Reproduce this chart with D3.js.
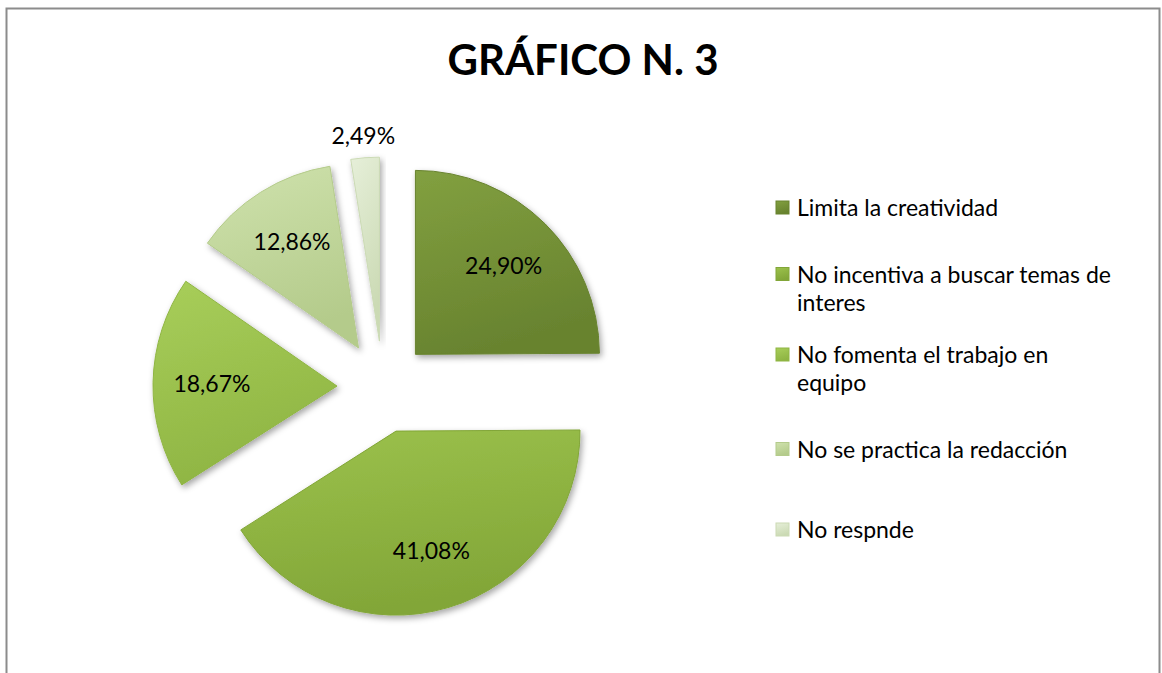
<!DOCTYPE html>
<html>
<head>
<meta charset="utf-8">
<script src="https://cdn.jsdelivr.net/npm/d3@7/dist/d3.min.js"></script>
<style>
  body { margin: 0; background: #fff; }
  svg { display: block; }
</style>
</head>
<body>
<script>
// Data
var categories = ["Limita la creatividad",
                  "No incentiva a buscar temas de interes",
                  "No fomenta el trabajo en equipo",
                  "No se practica la redacción",
                  "No respnde"]
var values = [24.90, 41.08, 18.67, 12.86, 2.49]
var valueLabels = ["24,90%", "41,08%", "18,67%", "12,86%", "2,49%"]
// legend text broken in lines like the original
var legendLines = [["Limita la creatividad"],
                   ["No incentiva a buscar temas de", "interes"],
                   ["No fomenta el trabajo en", "equipo"],
                   ["No se practica la redacción"],
                   ["No respnde"]]
var colorsLight = ["#82a040", "#9cc24c", "#a8ce5a", "#cfe2ad", "#e6efd9"]
var colorsDark = ["#68832f", "#82a638", "#8fb543", "#b4cb8b", "#cbdab4"]

var w = 1162;
var h = 673;
var radius = 184;
var explode = 46;
var cx = 383, cy = 387;
var font = "Lato, 'Open Sans', sans-serif";

var svg = d3.select("body")
  .append("svg")
  .attr("width", w)
  .attr("height", h);

var defs = svg.append("defs");

// gradients for the bevel look
values.forEach(function(d, i){
  var g = defs.append("linearGradient")
    .attr("id", "grad" + i)
    .attr("x1", "0").attr("y1", "0")
    .attr("x2", "0.3").attr("y2", "1");
  g.append("stop").attr("offset", "0%").attr("stop-color", colorsLight[i]);
  g.append("stop").attr("offset", "100%").attr("stop-color", colorsDark[i]);
});

var shadow = defs.append("filter")
  .attr("id", "shadow")
  .attr("x", "-20%").attr("y", "-20%")
  .attr("width", "140%").attr("height", "140%");
shadow.append("feDropShadow")
  .attr("dx", 2).attr("dy", 3)
  .attr("stdDeviation", 3)
  .attr("flood-color", "#000")
  .attr("flood-opacity", 0.35);

// chart border (bottom is cut off in the original)
svg.append("path")
  .attr("d", "M6.5," + h + " V8.5 H1159.5 V" + h)
  .attr("fill", "none")
  .attr("stroke", "#8c8c8c")
  .attr("stroke-width", 2);

// Title
svg.append("text")
  .attr("x", 583)
  .attr("y", 75)
  .attr("text-anchor", "middle")
  .style("font-family", font)
  .style("font-weight", "bold")
  .style("font-size", "42px")
  .text("GRÁFICO N. 3");

// Pie
var pieData = d3.pie().sort(null).value(function(d){ return d; })(values);

var arc = d3.arc().innerRadius(0).outerRadius(radius);
var labelArc = d3.arc().innerRadius(radius * 0.68).outerRadius(radius * 0.68);
var outerArc = d3.arc().innerRadius(radius + 22).outerRadius(radius + 22);

function offset(d, dist){
  var a = (d.startAngle + d.endAngle) / 2;
  return [Math.sin(a) * dist, -Math.cos(a) * dist];
}

var pie = svg.append("g")
  .attr("transform", "translate(" + cx + "," + cy + ")");

var slices = pie.selectAll("g.slice")
  .data(pieData)
  .enter()
  .append("g")
  .attr("class", "slice")
  .attr("transform", function(d){
    var o = offset(d, explode);
    return "translate(" + o[0] + "," + o[1] + ")";
  });

slices.append("path")
  .attr("d", arc)
  .attr("fill", function(d, i){ return "url(#grad" + i + ")"; })
  .attr("stroke", function(d, i){ return colorsDark[i]; })
  .attr("stroke-width", 1)
  .attr("filter", "url(#shadow)");

// Data labels, small slice gets its label outside
slices.append("text")
  .attr("transform", function(d, i){
    var p = (d.data < 5) ? outerArc.centroid(d) : labelArc.centroid(d);
    return "translate(" + p[0] + "," + p[1] + ")";
  })
  .attr("text-anchor", "middle")
  .attr("dy", "0.35em")
  .style("font-family", font)
  .style("font-size", "23px")
  .style("fill", "#000")
  .text(function(d, i){ return valueLabels[i]; });

// Legend
var legendY = d3.scalePoint()
  .domain(categories)
  .range([208, 530]);

var legend = svg.append("g")
  .selectAll("g")
  .data(categories)
  .enter()
  .append("g")
  .attr("transform", function(d, i){
    var lines = legendLines[i].length;
    return "translate(776," + (legendY(d) - (lines - 1) * 14) + ")";
  });

legend.append("rect")
  .attr("x", 0)
  .attr("y", -7)
  .attr("width", 13)
  .attr("height", 13)
  .attr("fill", function(d, i){ return "url(#grad" + i + ")"; })
  .attr("stroke", function(d, i){ return colorsDark[i]; })
  .attr("stroke-width", 1);

legend.append("text")
  .attr("x", 21)
  .attr("y", 0)
  .style("font-family", font)
  .style("font-size", "23px")
  .selectAll("tspan")
  .data(function(d, i){ return legendLines[i]; })
  .enter()
  .append("tspan")
  .attr("x", 21)
  .attr("dy", function(d, j){ return j === 0 ? "0.35em" : "28px"; })
  .text(function(d){ return d; });
</script>
</body>
</html>
